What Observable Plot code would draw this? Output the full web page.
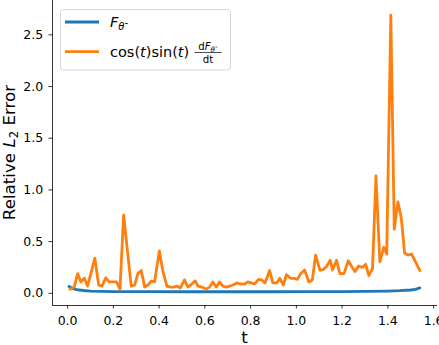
<!DOCTYPE html>
<html><head><meta charset="utf-8">
<script src="https://cdn.jsdelivr.net/npm/d3@7"></script>
<script src="https://cdn.jsdelivr.net/npm/@observablehq/plot@0.6"></script>
<style>body{margin:0;background:white}</style>
</head><body><div id="chart"></div>
<script>
const xTicks = [0, 0.2, 0.4, 0.6, 0.8, 1.0, 1.2, 1.4, 1.6];
const yTicks = [0, 0.5, 1.0, 1.5, 2.0, 2.5];
const xDomain = [-0.066, 1.617];
const yDomain = [-0.118, 2.832];
const colors = ["#1f77b4", "#ff7f0e"];

const blueT = [0.006, 0.02, 0.04, 0.07, 0.1, 0.15, 0.2, 0.3, 0.5, 0.7, 0.9, 1.1, 1.2, 1.3, 1.4, 1.45, 1.5, 1.52, 1.54];
const blueV = [0.065, 0.05, 0.035, 0.027, 0.022, 0.019, 0.017, 0.016, 0.015, 0.015, 0.015, 0.016, 0.017, 0.019, 0.022, 0.025, 0.032, 0.038, 0.052];

const orangeT = [0.010,0.029,0.044,0.058,0.073,0.087,0.103,0.119,0.136,0.150,
0.167,0.182,0.198,0.214,0.229,0.245,0.278,0.293,0.307,0.322,
0.337,0.351,0.366,0.380,0.401,0.416,0.434,0.449,0.463,0.478,
0.493,0.511,0.526,0.543,0.558,0.570,0.587,0.606,0.621,0.635,
0.650,0.664,0.679,0.694,0.708,0.723,0.740,0.755,0.774,0.788,
0.803,0.817,0.835,0.848,0.863,0.883,0.897,0.914,0.928,0.943,
0.957,0.975,0.989,1.004,1.019,1.036,1.055,1.070,1.084,1.103,
1.118,1.132,1.148,1.158,1.176,1.190,1.208,1.227,1.242,1.256,
1.273,1.288,1.303,1.317,1.333,1.348,1.365,1.382,1.395,1.413,
1.428,1.444,1.459,1.473,1.488,1.503,1.521,1.540];
const orangeV = [0.04,0.06,0.19,0.11,0.145,0.07,0.20,0.34,0.08,0.07,
0.15,0.11,0.11,0.11,0.04,0.757,0.07,0.08,0.19,0.22,
0.06,0.08,0.12,0.11,0.41,0.22,0.07,0.06,0.06,0.07,
0.05,0.13,0.06,0.09,0.12,0.07,0.06,0.04,0.06,0.11,
0.06,0.11,0.07,0.06,0.07,0.08,0.10,0.09,0.09,0.11,
0.10,0.09,0.135,0.13,0.10,0.22,0.10,0.10,0.145,0.08,
0.18,0.145,0.145,0.135,0.19,0.225,0.11,0.13,0.37,0.225,
0.23,0.26,0.32,0.225,0.32,0.19,0.19,0.315,0.26,0.21,
0.265,0.25,0.28,0.17,0.24,1.135,0.305,0.445,0.38,2.69,
0.62,0.885,0.725,0.39,0.37,0.38,0.305,0.22];

const blue = blueT.map((t, i) => ({t, v: blueV[i]}));
const orange = orangeT.map((t, i) => ({t, v: orangeV[i]}));

const chart = Plot.plot({
  width: 439, height: 345,
  marginLeft: 52, marginRight: 2, marginTop: 0, marginBottom: 40,
  x: {domain: xDomain},
  y: {domain: yDomain},
  style: {fontFamily: "DejaVu Sans", fontSize: "12.5px", color: "black", background: "white", overflow: "visible"},
  marks: [
    Plot.axisX({ticks: xTicks, tickFormat: d => d.toFixed(1), tickSize: 3.5, tickPadding: 7.5, label: null, strokeWidth: 0.8}),
    Plot.axisY({ticks: yTicks, tickFormat: d => d.toFixed(1), tickSize: 3.5, tickPadding: 5.8, label: null, strokeWidth: 0.8}),
    Plot.ruleX([xDomain[0]], {stroke: "black", strokeWidth: 0.8}),
    Plot.ruleY([yDomain[0]], {stroke: "black", strokeWidth: 0.8}),
    Plot.line(blue, {x: "t", y: "v", stroke: colors[0], strokeWidth: 2.8, strokeLinejoin: "round"}),
    Plot.line(orange, {x: "t", y: "v", stroke: colors[1], strokeWidth: 2.8, strokeLinejoin: "round"})
  ]
});
document.getElementById("chart").appendChild(chart);

const svg = d3.select(chart);
const ff = "DejaVu Sans";
// y label
const yl = svg.append("text").attr("transform", "translate(15,152.5) rotate(-90)")
  .attr("text-anchor", "middle").attr("font-family", ff).attr("font-size", 16.7).attr("fill", "black");
yl.append("tspan").text("Relative ");
yl.append("tspan").attr("font-style", "italic").text("L");
yl.append("tspan").attr("font-size", 11.7).attr("dy", 3).text("2");
yl.append("tspan").attr("dy", -3).text(" Error");
// x label
svg.append("text").attr("x", 244.5).attr("y", 342.5).attr("text-anchor", "middle")
  .attr("font-family", ff).attr("font-size", 16.7).attr("fill", "black").text("t");

// legend
const lg = svg.append("g").attr("font-family", ff).attr("fill", "black").attr("text-anchor", "start");
lg.append("rect").attr("x", 60.5).attr("y", 9.5).attr("width", 170).attr("height", 60.5).attr("rx", 3)
  .attr("fill", "white").attr("fill-opacity", 0.8).attr("stroke", "#cccccc").attr("stroke-width", 0.8);
lg.append("line").attr("x1", 65).attr("x2", 99).attr("y1", 22).attr("y2", 22).attr("stroke", colors[0]).attr("stroke-width", 2.8);
lg.append("line").attr("x1", 65).attr("x2", 99).attr("y1", 51.7).attr("y2", 51.7).attr("stroke", colors[1]).attr("stroke-width", 2.8);
const t1 = lg.append("text").attr("x", 110).attr("y", 27).attr("font-size", 14.5).attr("text-anchor", "start");
t1.append("tspan").attr("font-style", "italic").text("F");
t1.append("tspan").attr("font-style", "italic").attr("font-size", 10).attr("dy", 3).text("θ");
t1.append("tspan").attr("font-size", 10).attr("dy", -4).text("-");
const t2 = lg.append("text").attr("x", 110).attr("y", 57).attr("font-size", 14.5).attr("text-anchor", "start");
t2.append("tspan").text("cos(");
t2.append("tspan").attr("font-style", "italic").text("t");
t2.append("tspan").text(")sin(");
t2.append("tspan").attr("font-style", "italic").text("t");
t2.append("tspan").text(")");
const num = lg.append("text").attr("x", 208).attr("y", 49.5).attr("text-anchor", "middle").attr("font-size", 10.2);
num.append("tspan").text("d");
num.append("tspan").attr("font-style", "italic").text("F");
num.append("tspan").attr("font-style", "italic").attr("font-size", 7.3).attr("dy", 2).text("θ");
num.append("tspan").attr("font-size", 7.3).attr("dy", -3).text("-");
lg.append("line").attr("x1", 194.5).attr("x2", 221.5).attr("y1", 52.5).attr("y2", 52.5).attr("stroke", "black").attr("stroke-width", 0.7);
const den = lg.append("text").attr("x", 208).attr("y", 62.5).attr("text-anchor", "middle").attr("font-size", 10.2);
den.append("tspan").text("d");
den.append("tspan").text("t");
</script></body></html>
